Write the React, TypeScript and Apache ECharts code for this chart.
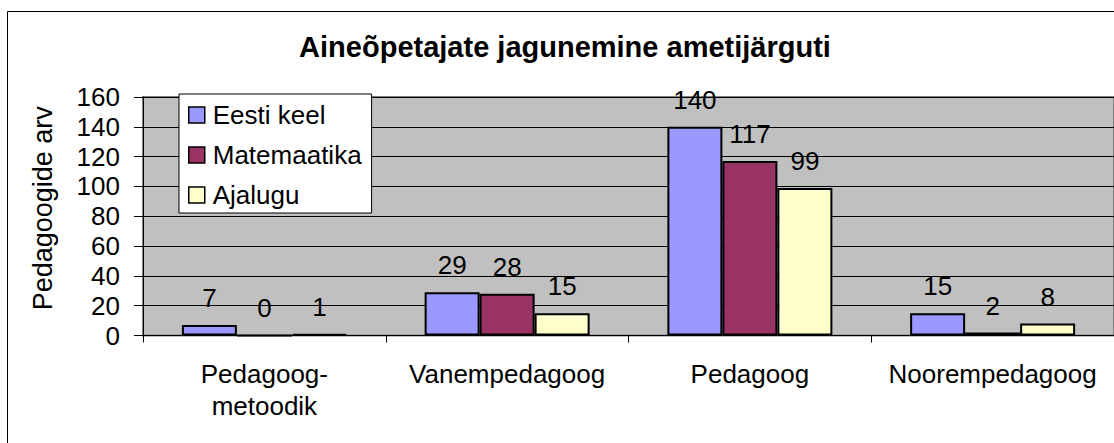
import React, { useEffect, useRef } from "react";
import * as echarts from "echarts";

const categories = ["Pedagoog-\nmetoodik", "Vanempedagoog", "Pedagoog", "Noorempedagoog"];
const seriesNames = ["Eesti keel", "Matemaatika", "Ajalugu"];
const eestiKeel = [7, 29, 140, 15];
const matemaatika = [0, 28, 117, 2];
const ajalugu = [1, 15, 99, 8];
const seriesColors = ["#9999FF", "#993366", "#FFFFCC"];
const yTicks = { min: 0, max: 160, interval: 20 };

const FONT = "'Liberation Sans', Arial, sans-serif";
const FS = 26;

export default function App() {
  const ref = useRef<HTMLDivElement>(null);
  useEffect(() => {
    if (!ref.current) return;
    const chart = echarts.init(ref.current, undefined, { renderer: "svg" });
    const values = [eestiKeel, matemaatika, ajalugu];
    chart.setOption({
      animation: false,
      backgroundColor: "#FFFFFF",
      textStyle: { fontFamily: FONT },
      title: {
        text: "Aineõpetajate jagunemine ametijärguti",
        left: 560,
        textAlign: "center",
        top: 27,
        textStyle: { fontFamily: FONT, fontSize: 29, fontWeight: "bold", color: "#000" },
      },
      graphic: [
        {
          type: "rect",
          z: -10,
          shape: { x: 7.5, y: 11.5, width: 1200, height: 600 },
          style: { fill: "none", stroke: "#000", lineWidth: 1 },
          silent: true,
        },
      ],
      legend: {
        orient: "vertical",
        left: 179,
        top: 94,
        padding: [8, 10, 5, 9],
        itemGap: 14,
        itemWidth: 16,
        itemHeight: 16,
        backgroundColor: "#FFFFFF",
        borderColor: "#000",
        borderWidth: 1,
        borderRadius: 0,
        icon: "rect",
        itemStyle: { borderColor: "#000", borderWidth: 1.5 },
        textStyle: { fontFamily: FONT, fontSize: FS, color: "#000", lineHeight: 26, padding: [0, 0, 0, 3] },
        data: seriesNames,
      },
      grid: {
        left: 143,
        top: 97,
        right: -3,
        bottom: 107.5,
        show: true,
        backgroundColor: "#C0C0C0",
        borderColor: "#808080",
        borderWidth: 2,
      },
      xAxis: {
        type: "category",
        data: categories,
        axisLine: { show: true, lineStyle: { color: "#000", width: 1 } },
        axisTick: { show: true, length: 7, lineStyle: { color: "#000" } },
        axisLabel: {
          margin: 22,
          fontFamily: FONT,
          fontSize: FS,
          lineHeight: 32,
          color: "#000",
          interval: 0,
        },
        splitLine: { show: false },
      },
      yAxis: {
        type: "value",
        min: yTicks.min,
        max: yTicks.max,
        interval: yTicks.interval,
        name: "Pedagoogide arv",
        nameLocation: "middle",
        nameGap: 87,
        nameRotate: 90,
        nameTextStyle: { fontFamily: FONT, fontSize: 27, color: "#000", padding: [0, 0, 0, 16] },
        axisLine: { show: true, lineStyle: { color: "#000", width: 1 } },
        axisTick: { show: true, length: 9, lineStyle: { color: "#000" } },
        axisLabel: { margin: 23, fontFamily: FONT, fontSize: FS, color: "#000" },
        splitLine: { show: true, lineStyle: { color: "#000", width: 1 } },
      },
      series: seriesNames.map((name, i) => ({
        name,
        type: "bar",
        data: values[i],
        barWidth: 55,
        barGap: "0%",
        itemStyle: { color: seriesColors[i], borderColor: "#000", borderWidth: 2 },
        label: {
          show: true,
          position: "top",
          distance: 14,
          fontFamily: FONT,
          fontSize: FS,
          color: "#000",
        },
      })),
    });
    return () => chart.dispose();
  }, []);
  return (
    <div
      ref={ref}
      style={{ position: "fixed", left: 0, top: 0, width: 1114, height: 443 }}
    />
  );
}
